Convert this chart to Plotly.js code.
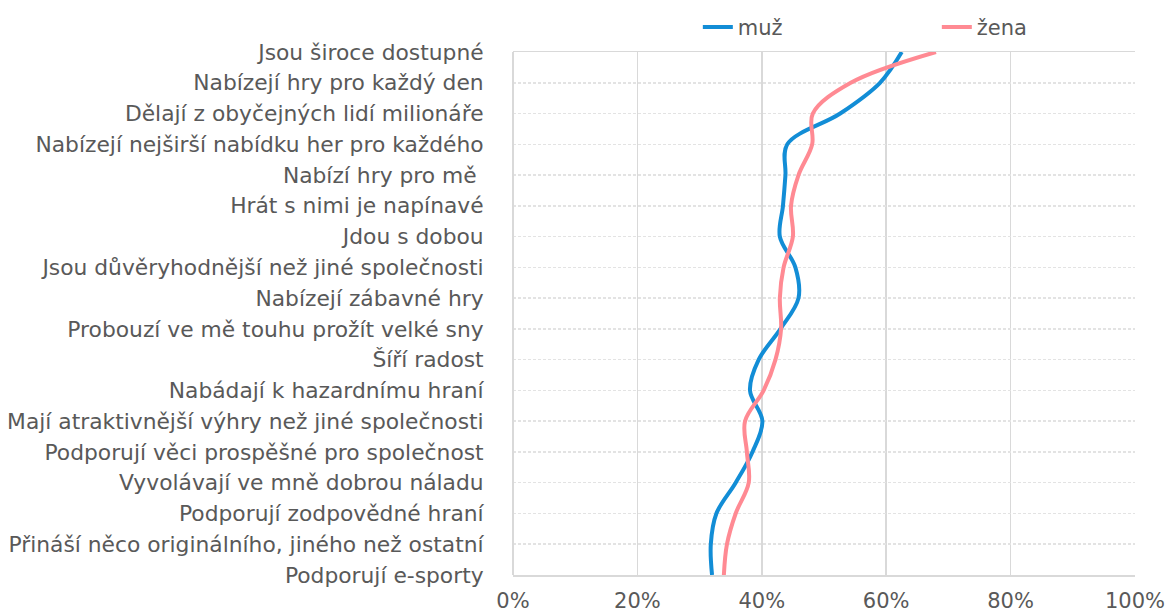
<!DOCTYPE html>
<html>
<head>
<meta charset="utf-8">
<script src="https://cdn.plot.ly/plotly-3.0.1.min.js"></script>
<style>html,body{margin:0;padding:0;background:#fff;}#chart{width:1165px;height:614px;}</style>
</head>
<body>
<div id="chart"></div>
<script>
const categories = [
  "Jsou široce dostupné",
  "Nabízejí hry pro každý den",
  "Dělají z obyčejných lidí milionáře",
  "Nabízejí nejširší nabídku her pro každého",
  "Nabízí hry pro mě ",
  "Hrát s nimi je napínavé",
  "Jdou s dobou",
  "Jsou důvěryhodnější než jiné společnosti",
  "Nabízejí zábavné hry",
  "Probouzí ve mě touhu prožít velké sny",
  "Šíří radost",
  "Nabádají k hazardnímu hraní",
  "Mají atraktivnější výhry než jiné společnosti",
  "Podporují věci prospěšné pro společnost",
  "Vyvolávají ve mně dobrou náladu",
  "Podporují zodpovědné hraní",
  "Přináší něco originálního, jiného než ostatní",
  "Podporují e-sporty"
];
const muz  = [62.5, 59.0, 52.6, 44.1, 43.8, 43.4, 42.9, 45.4, 45.9, 43.0, 39.5, 38.1, 40.1, 38.5, 35.8, 32.7, 31.8, 32.0];
const zena = [68.0, 54.3, 48.2, 48.1, 45.9, 44.7, 45.0, 43.5, 42.9, 43.1, 42.2, 40.3, 37.3, 37.6, 37.9, 35.8, 34.4, 33.9];
const tickVals = [0, 20, 40, 60, 80, 100];
const tickText = ["0%", "20%", "40%", "60%", "80%", "100%"];

const FONT = "DejaVu Sans, sans-serif";
const GRAY = "#595959";

const traces = [
  {x: muz, y: categories, name: "muž", type: "scatter", mode: "lines",
   line: {color: "#128dd6", width: 4, shape: "spline", smoothing: 1}},
  {x: zena, y: categories, name: "žena", type: "scatter", mode: "lines",
   line: {color: "#ff8a93", width: 4, shape: "spline", smoothing: 1}}
];

const layout = {
  width: 1165, height: 614,
  margin: {l: 513, r: 30, t: 52, b: 39, autoexpand: false},
  paper_bgcolor: "#fff", plot_bgcolor: "#fff",
  font: {family: FONT, color: GRAY, size: 21},
  showlegend: true,
  legend: {orientation: "h", xref: "container", x: 0.599, yref: "paper", y: 1.008,
           xanchor: "left", yanchor: "bottom",
           font: {family: FONT, size: 21, color: GRAY}, entrywidth: 194, itemwidth: 30,
           bgcolor: "rgba(0,0,0,0)"},
  xaxis: {range: [0, 100], tickvals: tickVals, ticktext: tickText,
          showgrid: true, gridcolor: "#d9d9d9", gridwidth: 1.5,
          zeroline: true, zerolinecolor: "#d9d9d9", zerolinewidth: 1.5,
          showline: true, linecolor: "#d9d9d9", linewidth: 1.5, mirror: true,
          ticks: "outside", ticklen: 6, tickcolor: "rgba(0,0,0,0)",
          ticklabeloverflow: "allow",
          tickfont: {family: FONT, size: 21, color: GRAY}, fixedrange: true},
  yaxis: {type: "category", categoryorder: "array", categoryarray: categories,
          range: [17, 0], showgrid: true, gridcolor: "#e3e3e3", gridwidth: 1.5, griddash: "3px,2px",
          ticks: "outside", ticklen: 24, tickcolor: "rgba(0,0,0,0)",
          tickfont: {family: FONT, size: 21.8, color: GRAY}, fixedrange: true}
};

Plotly.newPlot("chart", traces, layout, {displayModeBar: false, staticPlot: true});
</script>
</body>
</html>
